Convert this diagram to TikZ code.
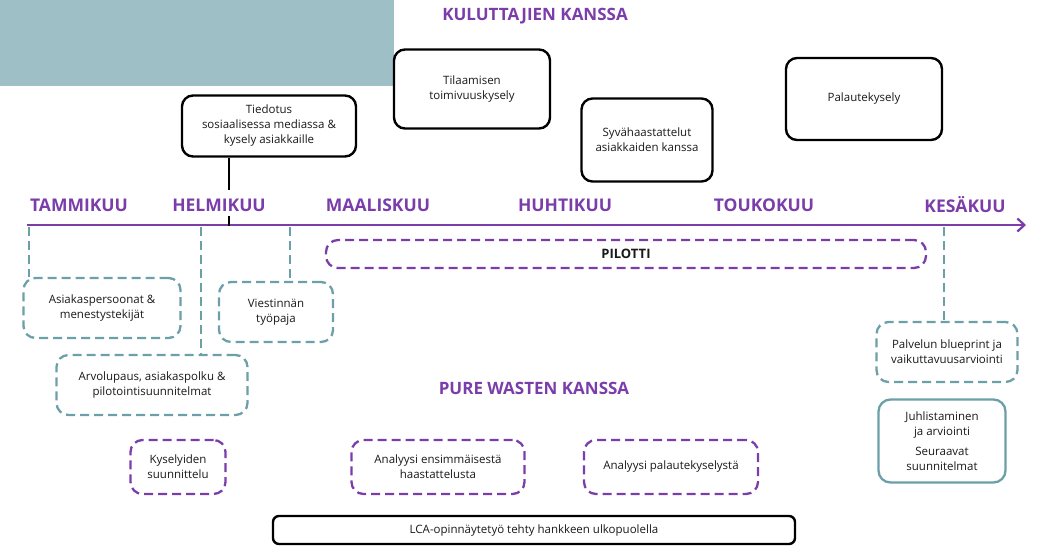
\documentclass[tikz,border=0pt]{standalone}
\usepackage{fontspec}
\setmainfont{Open Sans}
\usetikzlibrary{arrows.meta}

\definecolor{lila}{HTML}{7A3DAA}
\definecolor{petrol}{HTML}{6BA0A8}
\definecolor{harmaasini}{HTML}{9EBFC6}

\tikzset{
    kuukausi/.style={font=\fontsize{17.5}{17.5}\selectfont\bfseries, text=lila},
    otsikko/.style={font=\fontsize{17}{17}\selectfont\bfseries, text=lila},
    laatikko/.style={align=center, inner sep=0pt, font=\fontsize{11.5}{15}\selectfont, text=black!90},
    musta/.style={laatikko, draw=black, line width=2.4pt, rounded corners=11pt},
    tvali/.style={laatikko, draw=petrol, line width=2.3pt, rounded corners=12pt, dash pattern=on 9pt off 5pt},
    lvali/.style={laatikko, draw=lila, line width=2.3pt, rounded corners=12pt, dash pattern=on 9pt off 5pt},
    tviiva/.style={draw=petrol, line width=2.3pt, dash pattern=on 9pt off 5pt},
}

\begin{document}
\begin{tikzpicture}[x=1pt, y=-1pt]
    \useasboundingbox (0,0) rectangle (1040,547);
    % Corner block
    \fill[harmaasini] (0,0) rectangle (394,86);
    % Headings
    \node[otsikko] (kuluttajat) at (535,16) {KULUTTAJIEN KANSSA};
    \node[otsikko] (purewaste) at (534,388) {PURE WASTEN KANSSA};
    % Consumer boxes
    \node[musta, minimum width=156pt, minimum height=79pt] (tilaus) at (472,89) {Tilaamisen\\toimivuuskysely};
    \node[musta, minimum width=174pt, minimum height=61pt] (tiedotus) at (269,126) {Tiedotus\\sosiaalisessa mediassa \&\\kysely asiakkaille};
    \node[musta, minimum width=131pt, minimum height=83pt] (syva) at (647,140) {Syvähaastattelut\\asiakkaiden kanssa};
    \node[musta, minimum width=156pt, minimum height=82pt] (palaute) at (864,99) {Palautekysely};
    % Axis
    \coordinate (alku) at (27,225);
    \coordinate (loppu) at (1026,225);
    \draw[lila, line width=2.8pt, -{Straight Barb[length=7pt, width=13pt, line width=2.2pt]}] (alku) -- (loppu);
    % Months
    \node[kuukausi] (tammi) at (79,205) {TAMMIKUU};
    \node[kuukausi] (helmi) at (219,205) {HELMIKUU};
    \node[kuukausi] (maalis) at (378,205) {MAALISKUU};
    \node[kuukausi] (huhti) at (565,205) {HUHTIKUU};
    \node[kuukausi] (touko) at (764,205) {TOUKOKUU};
    \node[kuukausi] (kesa) at (965,205) {KESÄKUU};
    % Tiedotus stem
    \coordinate (varsi1) at (229,190);
    \coordinate (varsi2) at (229,216);
    \coordinate (varsi3) at (229,226);
    \draw[line width=2pt] (tiedotus.south -| varsi1) -- (varsi1);
    \draw[line width=2pt] (varsi2) -- (varsi3);
    % Pure Waste boxes
    \node[lvali, minimum width=600pt, minimum height=28pt, font=\fontsize{13}{13}\selectfont\bfseries] (pilotti) at (626,254) {PILOTTI};
    \node[tvali, minimum width=157pt, minimum height=60pt] (persoonat) at (102,308) {Asiakaspersoonat \&\\menestystekijät};
    \node[tvali, minimum width=114pt, minimum height=60pt] (viestinta) at (276,312) {Viestinnän\\työpaja};
    \node[tvali, minimum width=191pt, minimum height=60pt] (arvo) at (152,385) {Arvolupaus, asiakaspolku \&\\pilotointisuunnitelmat};
    \node[lvali, minimum width=95pt, minimum height=54pt] (kyselyt) at (178,467) {Kyselyiden\\suunnittelu};
    \node[lvali, minimum width=173pt, minimum height=54pt] (analyysi1) at (438,467) {Analyysi ensimmäisestä\\haastattelusta};
    \node[lvali, minimum width=174pt, minimum height=54pt] (analyysi2) at (671,467) {Analyysi palautekyselystä};
    \node[tvali, minimum width=141pt, minimum height=60pt] (blueprint) at (947,352) {Palvelun blueprint ja\\vaikuttavuusarviointi};
    \node[laatikko, draw=petrol, line width=2.3pt, rounded corners=12pt, minimum width=127pt, minimum height=83pt] (juhla) at (942,441) {Juhlistaminen\\ja arviointi\\[5pt]Seuraavat\\suunnitelmat};
    \node[musta, minimum width=522pt, minimum height=28pt, rounded corners=6pt] (lca) at (534,530) {LCA-opinnäytetyö tehty hankkeen ulkopuolella};
    % Dashed links from the axis
    \coordinate (t1) at (29,227);
    \coordinate (t2) at (201,227);
    \coordinate (t3) at (290,227);
    \coordinate (t4) at (944,227);
    \draw[tviiva] (t1) -- (persoonat.north -| t1);
    \draw[tviiva] (t2) -- (arvo.north -| t2);
    \draw[tviiva] (t3) -- (viestinta.north -| t3);
    \draw[tviiva] (t4) -- (blueprint.north -| t4);
\end{tikzpicture}
\end{document}
